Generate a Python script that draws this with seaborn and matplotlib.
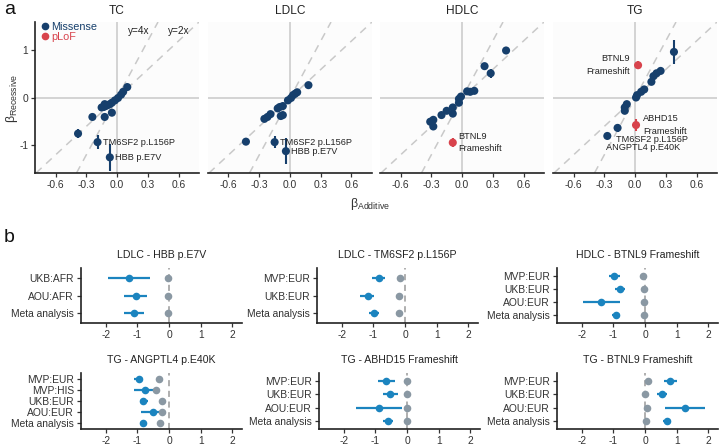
import numpy as np
import pandas as pd
import matplotlib
matplotlib.use('Agg')
import matplotlib.pyplot as plt
from matplotlib.lines import Line2D
import seaborn as sns

sns.set_theme(style='ticks')
plt.rcParams['font.family'] = ['Liberation Sans', 'DejaVu Sans']
plt.rcParams['mathtext.fontset'] = 'custom'
plt.rcParams['mathtext.rm'] = 'Liberation Sans'
plt.rcParams['mathtext.it'] = 'Liberation Sans'

# ---------------- Panel a data ----------------
traits = ['TC', 'LDLC', 'HDLC', 'TG']

tc_add = [0.10, 0.06, 0.04, 0.01, -0.02, -0.05, -0.07, -0.09, -0.11, -0.13, -0.15, -0.12, -0.05, -0.12, -0.24, -0.38, -0.19, -0.07]
tc_rec = [0.23, 0.13, 0.07, 0.00, -0.05, -0.10, -0.13, -0.15, -0.17, -0.19, -0.20, -0.13, -0.31, -0.40, -0.40, -0.75, -0.93, -1.25]
tc_err = [0.04, 0.04, 0.04, 0.04, 0.04, 0.04, 0.04, 0.04, 0.04, 0.04, 0.04, 0.04, 0.05, 0.05, 0.04, 0.09, 0.15, 0.29]
tc_kind = ['Missense'] * 18
tc_lab = [''] * 16 + ['TM6SF2 p.L156P', 'HBB p.E7V']

ldlc_add = [0.18, 0.07, 0.05, 0.03, 0.01, -0.02, -0.07, -0.10, -0.12, -0.07, -0.09, -0.19, -0.22, -0.25, -0.43, -0.15, -0.04]
ldlc_rec = [0.27, 0.12, 0.09, 0.06, 0.00, -0.05, -0.17, -0.19, -0.22, -0.36, -0.38, -0.34, -0.40, -0.44, -0.92, -0.93, -1.12]
ldlc_err = [0.05, 0.04, 0.04, 0.04, 0.04, 0.04, 0.04, 0.04, 0.04, 0.06, 0.04, 0.04, 0.04, 0.04, 0.08, 0.12, 0.28]
ldlc_kind = ['Missense'] * 17
ldlc_lab = [''] * 15 + ['TM6SF2 p.L156P', 'HBB p.E7V']

hdlc_add = [0.43, 0.22, 0.28, 0.12, 0.08, 0.05, -0.01, -0.03, -0.03, -0.09, -0.09, -0.15, -0.20, -0.28, -0.31, -0.28, -0.09]
hdlc_rec = [1.00, 0.67, 0.52, 0.15, 0.13, 0.14, 0.03, -0.02, -0.10, -0.20, -0.33, -0.27, -0.36, -0.46, -0.50, -0.60, -0.94]
hdlc_err = [0.04, 0.05, 0.09, 0.04, 0.04, 0.04, 0.04, 0.04, 0.05, 0.05, 0.07, 0.04, 0.04, 0.04, 0.04, 0.05, 0.10]
hdlc_kind = ['Missense'] * 16 + ['pLoF']
hdlc_lab = [''] * 16 + ['BTNL9\nFrameshift']

tg_add = [0.38, 0.25, 0.21, 0.18, 0.16, 0.09, 0.06, 0.02, 0.01, -0.08, -0.10, -0.10, -0.17, -0.27, 0.03, 0.01]
tg_rec = [0.97, 0.57, 0.52, 0.46, 0.34, 0.18, 0.13, 0.06, 0.01, -0.13, -0.20, -0.27, -0.63, -0.80, 0.69, -0.57]
tg_err = [0.25, 0.05, 0.05, 0.05, 0.05, 0.04, 0.04, 0.04, 0.04, 0.05, 0.05, 0.05, 0.09, 0.06, 0.08, 0.13]
tg_kind = ['Missense'] * 14 + ['pLoF', 'pLoF']
tg_lab = [''] * 12 + ['TM6SF2 p.L156P', 'ANGPTL4 p.E40K', 'BTNL9\nFrameshift', 'ABHD15\nFrameshift']

facet_data = {
    'TC': (tc_add, tc_rec, tc_err, tc_kind, tc_lab),
    'LDLC': (ldlc_add, ldlc_rec, ldlc_err, ldlc_kind, ldlc_lab),
    'HDLC': (hdlc_add, hdlc_rec, hdlc_err, hdlc_kind, hdlc_lab),
    'TG': (tg_add, tg_rec, tg_err, tg_kind, tg_lab),
}

# ---------------- Panel b data ----------------
b_titles = ['LDLC - HBB p.E7V', 'LDLC - TM6SF2 p.L156P', 'HDLC - BTNL9 Frameshift',
            'TG - ANGPTL4 p.E40K', 'TG - ABHD15 Frameshift', 'TG - BTNL9 Frameshift']
b_cohorts = [
    ['UKB:AFR', 'AOU:AFR', 'Meta analysis'],
    ['MVP:EUR', 'UKB:EUR', 'Meta analysis'],
    ['MVP:EUR', 'UKB:EUR', 'AOU:EUR', 'Meta analysis'],
    ['MVP:EUR', 'MVP:HIS', 'UKB:EUR', 'AOU:EUR', 'Meta analysis'],
    ['MVP:EUR', 'UKB:EUR', 'AOU:EUR', 'Meta analysis'],
    ['MVP:EUR', 'UKB:EUR', 'AOU:EUR', 'Meta analysis'],
]
b_rec = [[-1.25, -1.06, -1.12], [-0.83, -1.17, -0.98], [-0.99, -0.80, -1.38, -0.92],
         [-0.96, -0.75, -0.81, -0.52, -0.83], [-0.67, -0.54, -0.90, -0.61], [0.80, 0.53, 1.25, 0.70]]
b_rec_lo = [[-1.94, -1.43, -1.43], [-1.05, -1.43, -1.14], [-1.15, -0.95, -1.97, -1.05],
            [-1.10, -1.11, -0.93, -0.88, -0.93], [-0.93, -0.77, -1.62, -0.77], [0.60, 0.37, 0.63, 0.57]]
b_rec_hi = [[-0.60, -0.70, -0.80], [-0.63, -0.98, -0.83], [-0.80, -0.65, -0.80, -0.80],
            [-0.83, -0.42, -0.68, -0.20, -0.73], [-0.37, -0.30, -0.17, -0.45], [1.00, 0.70, 1.88, 0.83]]
b_add = [[-0.04, -0.04, -0.04], [-0.15, -0.20, -0.18], [-0.07, -0.03, -0.05, -0.05],
         [-0.31, -0.40, -0.24, -0.24, -0.28], [0.00, 0.00, -0.01, 0.00], [0.08, 0.00, 0.05, 0.03]]
b_add_err = [[0.04, 0.03, 0.03], [0.03, 0.03, 0.02], [0.03, 0.03, 0.04, 0.02],
             [0.03, 0.08, 0.03, 0.04, 0.02], [0.02, 0.02, 0.03, 0.02], [0.03, 0.02, 0.04, 0.02]]

# ---------------- styling ----------------
NAVY = '#163f6c'
RED = '#d8434c'
BLUE = '#1b84bf'
GREY = '#8a98a3'
REFGREY = '#c9c9c9'
pal = {'Missense': NAVY, 'pLoF': RED}

W, H = 720, 448
fig = plt.figure(figsize=(7.2, 4.48), dpi=100)


def add_ax(x0, y0, x1, y1):
    return fig.add_axes([x0 / W, 1 - y1 / H, (x1 - x0) / W, (y1 - y0) / H])


def style_ax(ax, left=True):
    for s in ['top', 'right']:
        ax.spines[s].set_visible(False)
    ax.spines['bottom'].set_linewidth(1.2)
    ax.spines['bottom'].set_color('#222222')
    ax.spines['left'].set_linewidth(1.2)
    ax.spines['left'].set_color('#222222')
    ax.spines['left'].set_visible(left)
    ax.tick_params(axis='both', length=3, width=0.9, color='#333333', labelsize=7.4,
                   labelcolor='#333333', pad=2)


a_lefts = [35, 208, 380, 553]
a_width = 164
for i, t in enumerate(traits):
    add, rec, err, kind, lab = facet_data[t]
    df = pd.DataFrame({'add': add, 'rec': rec, 'err': err, 'kind': kind, 'lab': lab})
    ax = add_ax(a_lefts[i], 22, a_lefts[i] + a_width, 173)
    ax.set_facecolor('#fcfcfc')
    ax.set_xlim(-0.8, 0.8)
    ax.set_ylim(-1.58, 1.6)
    ax.axhline(0, color=REFGREY, lw=1.1, zorder=0)
    ax.axvline(0, color=REFGREY, lw=1.1, zorder=0)
    ax.axline((0, 0), slope=4, color=REFGREY, lw=1.1, ls=(0, (5, 4)), zorder=0)
    ax.axline((0, 0), slope=2, color=REFGREY, lw=1.1, ls=(0, (5, 4)), zorder=0)
    for k in ['Missense', 'pLoF']:
        sub = df[df['kind'] == k]
        if len(sub):
            ax.errorbar(sub['add'], sub['rec'], yerr=sub['err'], xerr=0.012, fmt='none',
                        ecolor=pal[k], elinewidth=1.5, capsize=0, zorder=2)
    sns.scatterplot(data=df, x='add', y='rec', hue='kind', palette=pal, s=34,
                    linewidth=0, legend=False, ax=ax, zorder=3)
    style_ax(ax, left=(i == 0))
    ax.set_xticks([-0.6, -0.3, 0.0, 0.3, 0.6])
    ax.set_xticklabels(['-0.6', '-0.3', '0.0', '0.3', '0.6'])
    if i == 0:
        ax.set_yticks([-1, 0, 1])
        ax.set_yticklabels(['-1', '0', '1'])
    else:
        ax.set_yticks([])
    ax.set_ylabel('')
    ax.set_xlabel('')
    ax.set_title(t, fontsize=8.6, color='#222222', pad=6)

    # annotations
    for _, r in df[df['lab'] != ''].iterrows():
        l = r['lab']
        if t == 'TG':
            if l.startswith('BTNL9'):
                off, ha, va = (-6, 0), 'right', 'center'
            elif l.startswith('ABHD15'):
                off, ha, va = (5, 0), 'left', 'center'
            else:
                off, ha, va = (-1, -8), 'left', 'center'
        else:
            off, ha, va = (4, 0), 'left', 'center'
        ax.annotate(l, (r['add'], r['rec']), xytext=off, textcoords='offset points',
                    ha=ha, va=va, fontsize=6.6, color='#222222', linespacing=1.5)

    if i == 0:
        ax.text(0.21, 1.42, 'y=4x', fontsize=7.2, color='#222222', ha='center', va='center')
        ax.text(0.60, 1.42, 'y=2x', fontsize=7.2, color='#222222', ha='center', va='center')
        handles = [Line2D([], [], marker='o', ls='', color=pal[k], markersize=4.5) for k in pal]
        ax.legend(handles, list(pal.keys()), loc='upper left', bbox_to_anchor=(-0.02, 1.05),
                  frameon=False, fontsize=7.8, handletextpad=0.1, labelspacing=0.02,
                  handlelength=1.0, labelcolor='markerfacecolor', borderpad=0.2)

fig.text(12 / W, 1 - 98 / H, r'$\beta_{\mathrm{Recessive}}$', fontsize=9, color='#333333',
         ha='center', va='center', rotation=90)
fig.text(370 / W, 1 - 204 / H, r'$\beta_{\mathrm{Additive}}$', fontsize=9, color='#333333',
         ha='center', va='center')
fig.text(4 / W, 1 - 9 / H, 'a', fontsize=14, color='#111111', ha='left', va='center')
fig.text(4 / W, 1 - 237 / H, 'b', fontsize=14, color='#111111', ha='left', va='center')

# ---------------- Panel b ----------------
b_pos = [(81, 268, 242, 323), (317, 268, 478, 323), (557, 268, 718, 323),
         (81, 373, 242, 429), (319, 373, 480, 429), (557, 373, 718, 429)]
for j in range(6):
    x0, y0, x1, y1 = b_pos[j]
    ax = add_ax(x0, y0, x1, y1)
    coh = b_cohorts[j]
    n = len(coh)
    ypos = list(range(n))
    dfb = pd.DataFrame({'coh': coh, 'y': ypos, 'rec': b_rec[j], 'lo': b_rec_lo[j], 'hi': b_rec_hi[j],
                        'add': b_add[j], 'aerr': b_add_err[j]})
    ax.axvline(0, color='#9a9a9a', lw=1.1, ls=(0, (4, 3)), zorder=0)
    ax.hlines(dfb['y'], dfb['add'] - dfb['aerr'], dfb['add'] + dfb['aerr'], color=GREY, lw=1.6, zorder=1)
    ax.hlines(dfb['y'], dfb['lo'], dfb['hi'], color=BLUE, lw=1.6, zorder=2)
    sns.scatterplot(data=dfb, x='add', y='y', color=GREY, s=30, linewidth=0, ax=ax, zorder=3)
    sns.scatterplot(data=dfb, x='rec', y='y', color=BLUE, s=30, linewidth=0, ax=ax, zorder=4)
    ax.set_xlim(-2.78, 2.3)
    ax.set_ylim(n - 1 + 0.6, -0.6)
    ax.set_yticks(ypos)
    ax.set_yticklabels(coh)
    ax.set_xticks([-2, -1, 0, 1, 2])
    ax.set_xticklabels(['-2', '-1', '0', '1', '2'])
    ax.set_xlabel('')
    ax.set_ylabel('')
    style_ax(ax)
    ax.set_title(b_titles[j], fontsize=7.6, color='#222222', pad=7)

fig.savefig('out.png', dpi=100, facecolor='white')
